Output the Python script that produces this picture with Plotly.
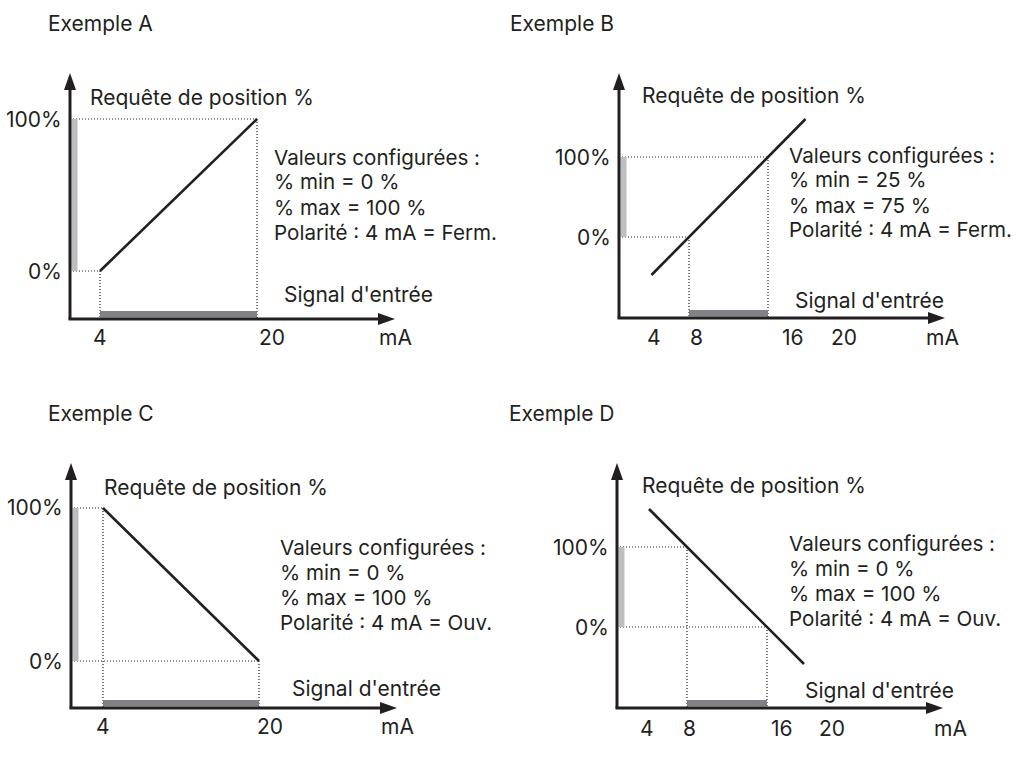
import plotly.graph_objects as go

# ---- values -------------------------------------------------------------
panel_titles = ["Exemple A", "Exemple B", "Exemple C", "Exemple D"]

# characteristic line of each example: input signal (mA) -> position request (%)
line_ma = [[4, 20], [4.2, 19.8], [4, 20], [4.2, 19.7]]
line_pct = [[0, 100], [-47.5, 147.5], [100, 0], [147.5, -46.25]]

# input current giving 0 % and 100 % of the position request
ma_at_0pct = [4, 8, 20, 16]
ma_at_100pct = [20, 16, 4, 8]

# x tick labels
tick_values = [[4, 20], [4, 8, 16, 20], [4, 20], [4, 8, 16, 20]]
tick_labels = [["4", "20"], ["4", "8", "16", "20"], ["4", "20"], ["4", "8", "16", "20"]]
y_tick_values = [0, 100]
y_tick_labels = ["0%", "100%"]

# configured values shown beside each graph
pct_min = [0, 25, 0, 0]
pct_max = [100, 75, 100, 100]
polarity = ["Ferm.", "Ferm.", "Ouv.", "Ouv."]

# ---- geometry (pixels) --------------------------------------------------
W, H = 1018, 760
FONT = "Inter"
FONT_SIZE = 21
CFG_SIZE = 20.6
INK = "#231f20"

# origin of the axes, top of the y arrow, right end of the x arrow
origin = [(70, 319), (619, 318), (71, 708), (617, 708)]
arrow_top = [73, 73, 463, 463]
arrow_right = [395, 945, 397, 943]
# two reference points per axis: (mA, px) and (%, px)
ma_cal = [((4, 100), (20, 257)), ((8, 689), (16, 768)),
          ((4, 103), (20, 259)), ((8, 687), (16, 767))]
pct_cal = [((0, 271), (100, 119)), ((0, 237), (100, 157)),
           ((0, 661), (100, 508)), ((0, 627), (100, 547))]
# horizontal pixel nudges of the x tick labels
tick_shift = [[0, 15], [4, 7, 25, 36], [0, 11], [0, 2, 15, 25]]
unit_x = [395, 942, 397, 950]
tick_y = [337, 338, 726, 728]
title_pos = [(46, 23), (508, 23), (46, 413), (507, 413)]
ylabel_pos = [(88, 97), (640, 95), (102, 487), (640, 485)]
config_pos = [(272, 157), (787, 155), (278, 547), (787, 543)]  # first line centre
signal_pos = [(282, 295), (793, 300), (290, 688), (803, 690)]
LINE_GAP = 25


def fx(p):
    return p / W


def fy(p):
    return 1 - p / H


def lin(px, cal):
    (v0, p0), (v1, p1) = cal
    return v0 + (px - p0) * (v1 - v0) / (p1 - p0)


fig = go.Figure()
shapes, annotations = [], []
layout_axes = {}
font = dict(family=FONT, size=FONT_SIZE, color=INK)
cfg_font = dict(family=FONT, size=CFG_SIZE, color=INK)

for i in range(4):
    n = "" if i == 0 else str(i + 1)
    xa, ya = "x" + n, "y" + n
    ox, oy = origin[i]
    xr = [lin(ox, ma_cal[i]), lin(arrow_right[i], ma_cal[i])]
    yr = [lin(oy, pct_cal[i]), lin(arrow_top[i], pct_cal[i])]

    layout_axes["xaxis" + n] = dict(
        domain=[fx(ox), fx(arrow_right[i])], range=xr, anchor=ya,
        visible=False, fixedrange=True)
    layout_axes["yaxis" + n] = dict(
        domain=[fy(oy), fy(arrow_top[i])], range=yr, anchor=xa,
        visible=False, fixedrange=True)

    # dotted guides
    guide = dict(color=INK, width=1.2, dash="1px,2px")
    for xs, ys in (
        ([xr[0], ma_at_100pct[i]], [100, 100]),
        ([xr[0], ma_at_0pct[i]], [0, 0]),
        ([ma_at_0pct[i], ma_at_0pct[i]], [0, yr[0]]),
        ([ma_at_100pct[i], ma_at_100pct[i]], [100, yr[0]]),
    ):
        fig.add_trace(go.Scatter(x=xs, y=ys, xaxis=xa, yaxis=ya, mode="lines",
                                 line=guide, hoverinfo="skip", showlegend=False))

    # characteristic line
    fig.add_trace(go.Scatter(x=line_ma[i], y=line_pct[i], xaxis=xa, yaxis=ya,
                             mode="lines", line=dict(color=INK, width=2.6),
                             showlegend=False, hoverinfo="skip"))

    # range bars along the axes
    shapes.append(dict(type="rect", xref=xa, yref=ya, xsizemode="pixel",
                       xanchor=xr[0], x0=1.5, x1=7.5, y0=0, y1=100,
                       fillcolor="#bcbec0", line_width=0, layer="above"))
    lo, hi = sorted([ma_at_0pct[i], ma_at_100pct[i]])
    shapes.append(dict(type="rect", xref=xa, yref=ya, ysizemode="pixel",
                       yanchor=yr[0], y0=1.5, y1=8, x0=lo, x1=hi,
                       fillcolor="#808285", line_width=0, layer="above"))

    # axes with arrowheads
    alen, aw = 17, 6
    shapes.append(dict(type="line", xref="paper", yref="paper",
                       x0=fx(ox), y0=fy(oy), x1=fx(ox), y1=fy(arrow_top[i] + alen - 2),
                       line=dict(color=INK, width=3)))
    shapes.append(dict(type="line", xref="paper", yref="paper",
                       x0=fx(ox - 1.5), y0=fy(oy), x1=fx(arrow_right[i] - alen + 2), y1=fy(oy),
                       line=dict(color=INK, width=3)))
    t = arrow_top[i]
    shapes.append(dict(type="path", xref="paper", yref="paper",
                       path=f"M{fx(ox)},{fy(t)} L{fx(ox - aw)},{fy(t + alen)} "
                            f"L{fx(ox + aw)},{fy(t + alen)} Z",
                       fillcolor=INK, line_width=0))
    r = arrow_right[i]
    shapes.append(dict(type="path", xref="paper", yref="paper",
                       path=f"M{fx(r)},{fy(oy)} L{fx(r - alen)},{fy(oy - aw)} "
                            f"L{fx(r - alen)},{fy(oy + aw)} Z",
                       fillcolor=INK, line_width=0))

    # x tick labels and unit
    for v, lab, sh in zip(tick_values[i], tick_labels[i], tick_shift[i]):
        annotations.append(dict(x=v, xref=xa, y=fy(tick_y[i]), yref="paper",
                                text=lab, showarrow=False, xshift=sh,
                                xanchor="center", yanchor="middle", font=font))
    annotations.append(dict(x=fx(unit_x[i]), y=fy(tick_y[i]), xref="paper", yref="paper",
                            text="mA", showarrow=False, xanchor="center",
                            yanchor="middle", font=font))
    # y tick labels
    for v, lab in zip(y_tick_values, y_tick_labels):
        annotations.append(dict(x=fx(ox - 6), xref="paper", y=v, yref=ya, text=lab,
                                showarrow=False, xanchor="right", yanchor="middle",
                                font=font))

    def label(pos, text, dy=0, f=font):
        annotations.append(dict(x=fx(pos[0]), y=fy(pos[1] + dy), xref="paper",
                                yref="paper", text=text, showarrow=False,
                                xanchor="left", yanchor="middle", font=f))

    label(title_pos[i], panel_titles[i])
    label(ylabel_pos[i], "Requête de position %")
    label(signal_pos[i], "Signal d'entrée")

    # configuration block, one line per annotation
    cfg = ["Valeurs configurées :",
           f"% min = {pct_min[i]} %",
           f"% max = {pct_max[i]} %",
           f"Polarité : 4 mA = {polarity[i]}"]
    for k, s in enumerate(cfg):
        label(config_pos[i], s, dy=k * LINE_GAP, f=cfg_font)

fig.update_layout(
    width=W, height=H, margin=dict(l=0, r=0, t=0, b=0),
    paper_bgcolor="white", plot_bgcolor="rgba(0,0,0,0)",
    showlegend=False, shapes=shapes, annotations=annotations,
    **layout_axes,
)

fig.write_html("out.html", config=dict(displayModeBar=False))
